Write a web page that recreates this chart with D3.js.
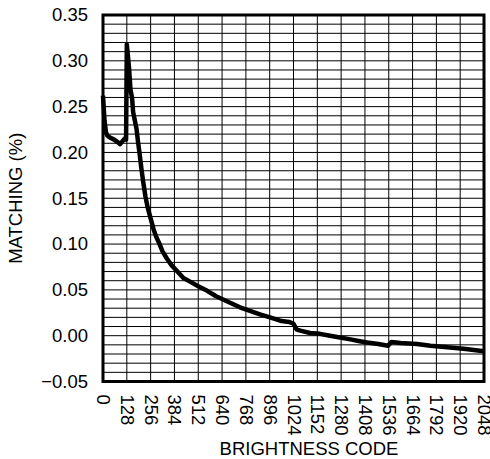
<!DOCTYPE html>
<html>
<head>
<meta charset="utf-8">
<script src="https://cdn.jsdelivr.net/npm/d3@7"></script>
<style>
  html, body { margin: 0; padding: 0; background: #fff; }
  svg { display: block; }
  text { font-family: "Liberation Sans", Arial, sans-serif; fill: #000; }
</style>
</head>
<body>
<svg id="chart" width="490" height="459"></svg>
<script>
// Brightness code (x) and matching % (y)
const codes = [0, 8, 16, 24, 40, 60, 80, 92, 104, 116, 124,
  128, 134, 140, 148, 156, 162, 170, 180, 188, 196, 206, 216, 228, 240,
  256, 272, 288, 304, 320, 344, 368, 400, 432, 468, 512, 560, 608, 640,
  683, 736, 790, 848, 898, 960, 1000, 1024, 1040, 1060, 1113, 1167, 1220,
  1274, 1330, 1380, 1420, 1480, 1532, 1550, 1600, 1688, 1760, 1866, 1950, 2048];
const matching = [0.262, 0.235, 0.222, 0.218, 0.216, 0.214, 0.211, 0.209, 0.212, 0.215, 0.214,
  0.318, 0.305, 0.292, 0.268, 0.260, 0.244, 0.236, 0.226, 0.212, 0.200, 0.183, 0.168, 0.152, 0.140,
  0.128, 0.116, 0.107, 0.100, 0.092, 0.084, 0.077, 0.070, 0.063, 0.059, 0.054, 0.049, 0.043, 0.040,
  0.036, 0.031, 0.027, 0.023, 0.020, 0.016, 0.015, 0.013, 0.007, 0.0055, 0.003, 0.002, 0.000,
  -0.002, -0.004, -0.006, -0.0075, -0.009, -0.011, -0.0068, -0.008, -0.009, -0.011, -0.013, -0.0145, -0.017];

const xTicks = [0, 128, 256, 384, 512, 640, 768, 896, 1024, 1152, 1280, 1408, 1536, 1664, 1792, 1920, 2048];
const yTicks = [-0.05, 0.00, 0.05, 0.10, 0.15, 0.20, 0.25, 0.30, 0.35];
const yGrid = d3.range(-50, 351, 10).map(v => v / 1000);

const xTitle = "BRIGHTNESS CODE";
const yTitle = "MATCHING (%)";

const svg = d3.select("#chart");
const pL = 103, pR = 484, pT = 15, pB = 381.5;

const x = d3.scaleLinear().domain([0, 2048]).range([pL, pR]);
const y = d3.scaleLinear().domain([-0.05, 0.35]).range([pB, pT]);

// grid
const grid = svg.append("g");
grid.selectAll("line.h").data(yGrid).enter().append("line")
  .attr("x1", pL).attr("x2", pR)
  .attr("y1", d => y(d)).attr("y2", d => y(d))
  .attr("stroke", "#000").attr("stroke-width", 1);
grid.selectAll("line.v").data(xTicks).enter().append("line")
  .attr("y1", pT).attr("y2", pB)
  .attr("x1", d => x(d)).attr("x2", d => x(d))
  .attr("stroke", "#000").attr("stroke-width", 1);

// data line
const pts = codes.map((c, i) => [c, matching[i]]);
svg.append("path")
  .datum(pts)
  .attr("fill", "none")
  .attr("stroke", "#000")
  .attr("stroke-width", 4.5)
  .attr("stroke-linejoin", "round")
  .attr("d", d3.line().x(d => x(d[0])).y(d => y(d[1])));

// frame
svg.append("rect")
  .attr("x", pL).attr("y", pT)
  .attr("width", pR - pL).attr("height", pB - pT)
  .attr("fill", "none").attr("stroke", "#000").attr("stroke-width", 3);

// y axis labels
const yAxis = d3.axisLeft(y).tickValues(yTicks).tickFormat(d3.format(".2f")).tickSize(0).tickPadding(15);
const ya = svg.append("g").attr("transform", `translate(${pL},0)`).call(yAxis);
ya.select(".domain").remove();
ya.selectAll("text").attr("font-size", 18.5).style("font-family", "'Liberation Sans', Arial, sans-serif");

// x axis labels (rotated)
const xAxis = d3.axisBottom(x).tickValues(xTicks).tickFormat(d3.format("d")).tickSize(0);
const xa = svg.append("g").attr("transform", `translate(0,${pB})`).call(xAxis);
xa.select(".domain").remove();
xa.selectAll("text")
  .attr("font-size", 18.5)
  .style("font-family", "'Liberation Sans', Arial, sans-serif")
  .attr("text-anchor", "start")
  .attr("transform", "rotate(90)")
  .attr("x", 13)
  .attr("y", 0)
  .attr("dy", "0.35em");

// titles
svg.append("text")
  .attr("x", 309).attr("y", 455)
  .attr("text-anchor", "middle")
  .attr("font-size", 18.5)
  .text(xTitle);
svg.append("text")
  .attr("transform", `translate(22,${(pT + pB) / 2}) rotate(-90)`)
  .attr("text-anchor", "middle")
  .attr("font-size", 18.5)
  .text(yTitle);
</script>
</body>
</html>
